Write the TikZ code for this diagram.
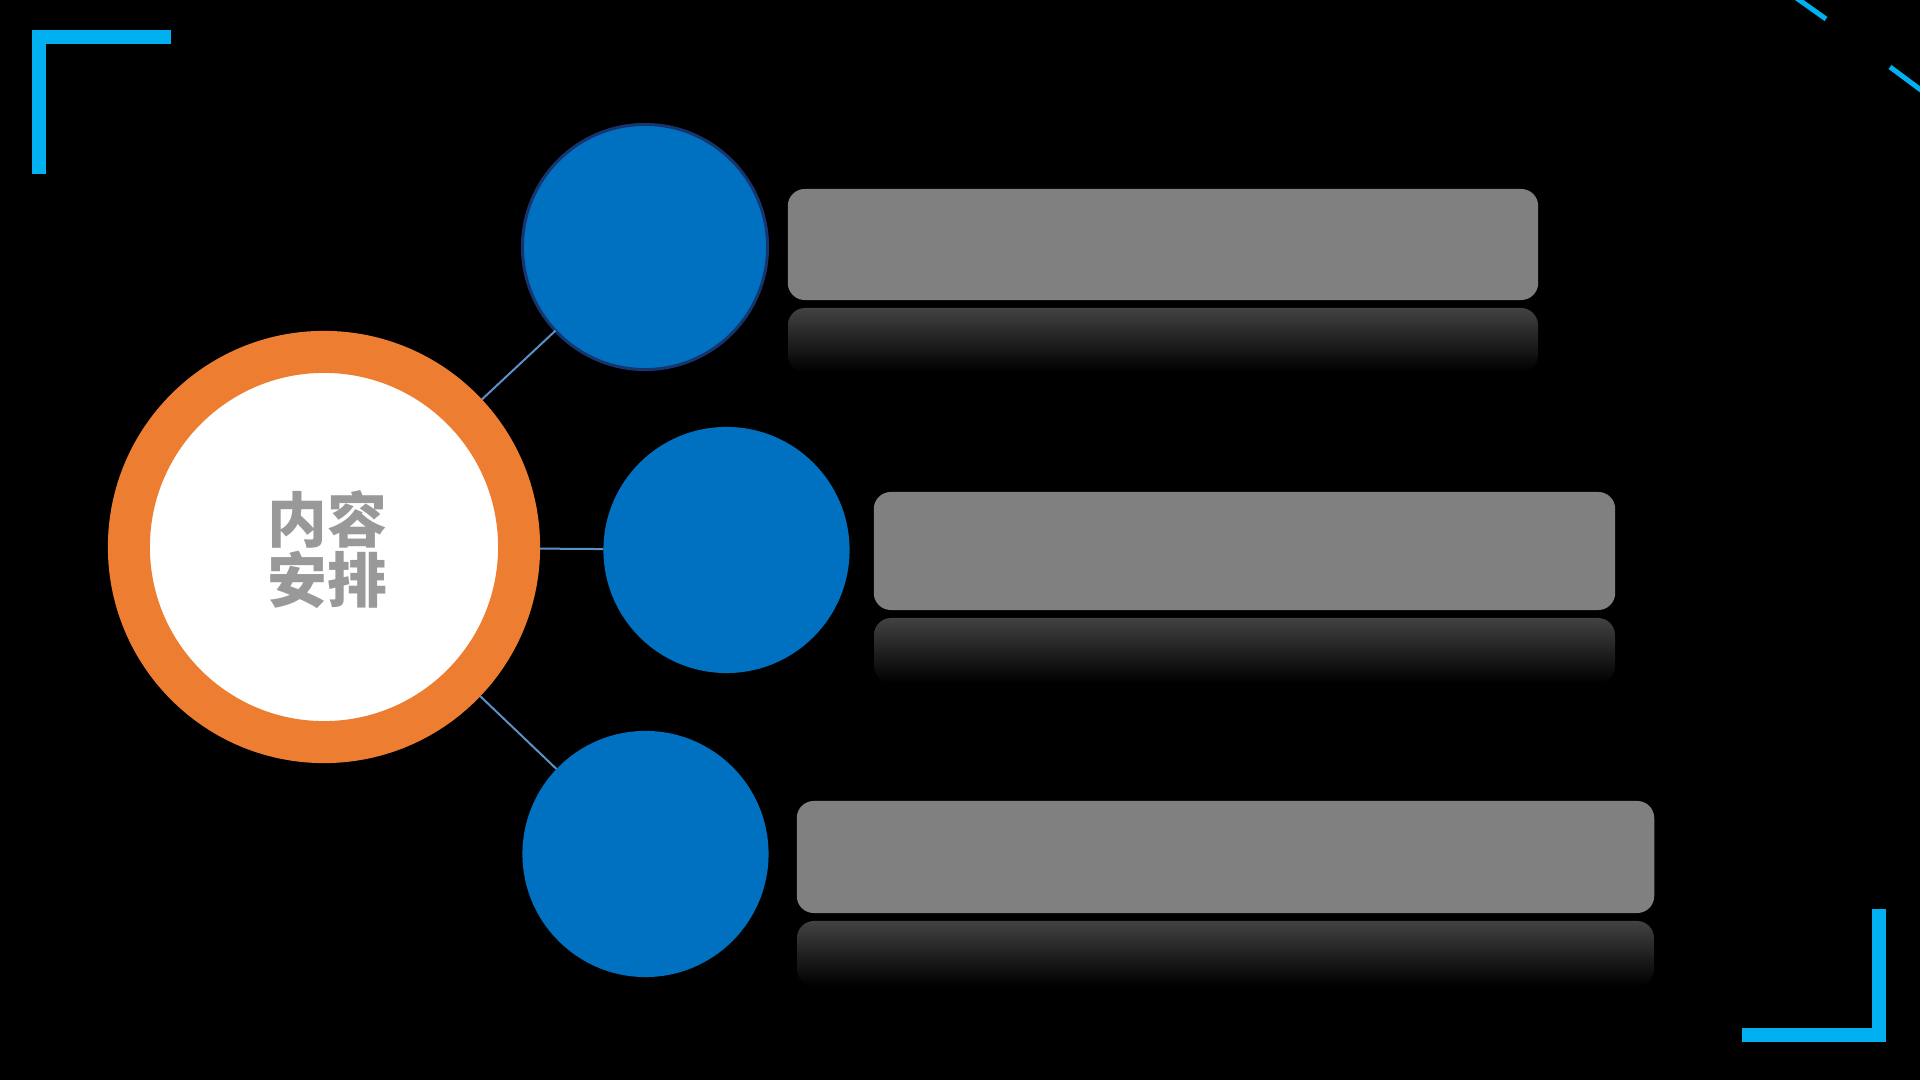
\documentclass[tikz,border=0pt]{standalone}
\usepackage{fontspec}
\newfontfamily\cjk{Noto Sans CJK SC}
\definecolor{bracketcyan}{RGB}{0,176,240}
\definecolor{ringorange}{RGB}{237,125,49}
\definecolor{dotblue}{RGB}{0,112,192}
\definecolor{glowblue}{RGB}{22,52,110}
\definecolor{linkblue}{RGB}{91,145,200}
\definecolor{bargray}{RGB}{128,128,128}
\definecolor{reflgray}{RGB}{66,66,66}
\definecolor{textgray}{RGB}{153,153,153}
\begin{document}
\begin{tikzpicture}[x=0.01cm,y=-0.01cm,
  bracket/.style={draw=bracketcyan,line width=0.14cm,line cap=butt,line join=miter},
  dashline/.style={draw=bracketcyan,line width=0.05cm},
  hub/.style={circle,fill=white,draw=ringorange,line width=0.42cm,minimum size=3.9cm,inner sep=0pt,outer sep=0.21cm},
  dot/.style={circle,fill=dotblue,minimum size=2.46cm,inner sep=0pt,outer sep=0pt},
  link/.style={draw=linkblue,line width=0.02cm},
  bar/.style={rectangle,rounded corners=0.17cm,fill=bargray,inner sep=0pt},
  refl/.style={rounded corners=0.17cm,top color=reflgray,bottom color=black}
]
\fill[black] (0,0) rectangle (1920,1080);
\useasboundingbox (0,0) rectangle (1920,1080);
\begin{scope}
\clip (0,0) rectangle (1920,1080);
% corner brackets
\draw[bracket] (39,174) -- (39,37.5) -- (171,37.5);
\draw[bracket] (1742,1035.5) -- (1878.5,1035.5) -- (1878.5,909);
% top-right dashes
\draw[dashline] (1795,-3) -- (1826,19);
\draw[dashline] (1890,67) -- (1925,93);
% reflections
\path[refl] (788,308) rectangle (1538,372);
\path[refl] (874,618) rectangle (1615,683);
\path[refl] (797,921) rectangle (1654,986);
\end{scope}
% bars
\node[bar,minimum width=7.50cm,minimum height=1.11cm] (bar1) at (1163,244.5) {};
\node[bar,minimum width=7.41cm,minimum height=1.18cm] (bar2) at (1244.5,551) {};
\node[bar,minimum width=8.57cm,minimum height=1.12cm] (bar3) at (1225.5,857) {};
% hub
\node[hub] (hub) at (324,547) {};
\node[text=textgray,align=center,font=\cjk\bfseries\fontsize{17}{17}\selectfont] (title) at (327,550) {内容\\安排};
% dots
\node[dot,draw=glowblue,line width=0.03cm,minimum size=2.45cm] (d1) at (645,247) {};
\node[dot] (d2) at (726.5,550) {};
\node[dot] (d3) at (645.5,854) {};
% links
\draw[link] (hub) -- (d1);
\draw[link] (hub) -- (d2);
\draw[link] (hub) -- (d3);
\end{tikzpicture}
\end{document}
